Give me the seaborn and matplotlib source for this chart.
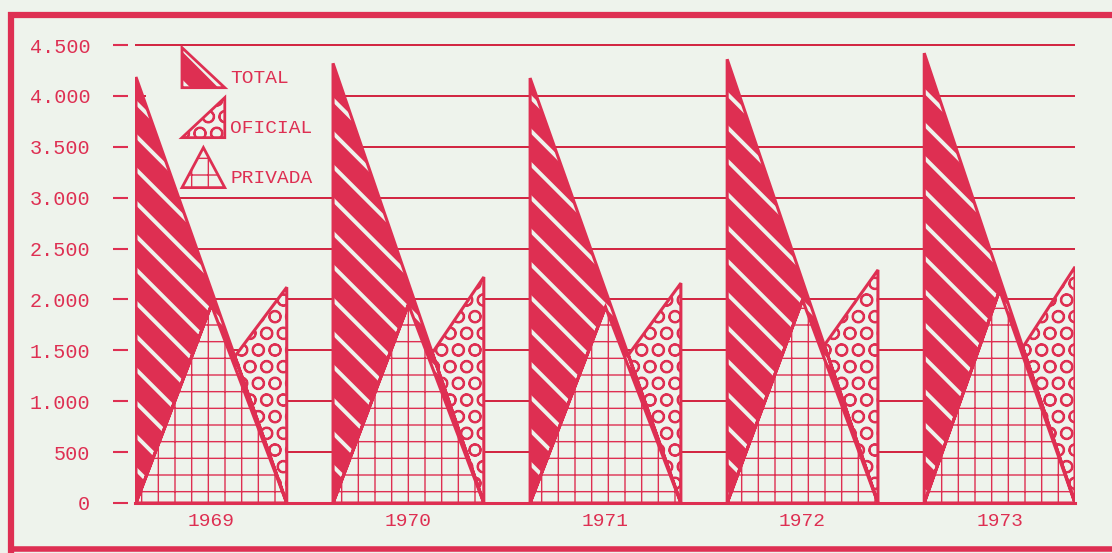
import pandas as pd
import seaborn as sns
import matplotlib.pyplot as plt
from matplotlib.patches import Polygon, Patch, Rectangle
from matplotlib.legend_handler import HandlerPatch, HandlerTuple
from matplotlib.lines import Line2D

years = ["1969", "1970", "1971", "1972", "1973"]
total = [4185, 4320, 4175, 4360, 4420]
oficial = [2120, 2220, 2160, 2290, 2320]
privada = [1945, 1950, 1925, 1995, 2090]
# height where the OFICIAL triangle touches the TOTAL slope
oficial_base = [1440, 1475, 1455, 1550, 1530]
series = ["TOTAL", "OFICIAL", "PRIVADA"]
y_ticks = [0, 500, 1000, 1500, 2000, 2500, 3000, 3500, 4000, 4500]

RED = "#de2f52"
GRID = "#d2233f"
BG = "#eef3ec"
FONT = "Liberation Mono"

STEP = 1.0
WIDTH = 0.765
Y_TOP = 4525

STYLES = {
    "TOTAL": dict(face=RED, hatch_color=BG, hatch="\\", hatch_lw=2.8, z=2),
    "PRIVADA": dict(face=BG, hatch_color=RED, hatch="+", hatch_lw=1.0, z=3),
    "OFICIAL": dict(face=BG, hatch_color=RED, hatch="O", hatch_lw=1.4, z=4),
}


def make_shapes():
    rows = []
    for i, year in enumerate(years):
        left = i * STEP
        right = left + WIDTH
        mid = (left + right) / 2
        frac = 1 - oficial_base[i] / total[i]
        xv = left + frac * WIDTH
        shapes = {
            "TOTAL": [(left, 0), (right, 0), (left, total[i])],
            "PRIVADA": [(left, 0), (mid, privada[i]), (right, 0)],
            "OFICIAL": [(right, 0), (xv, oficial_base[i]), (right, oficial[i])],
        }
        for serie, pts in shapes.items():
            # repeat two points so the outline closes with a join
            for k, (x, y) in enumerate(pts + pts[:2]):
                rows.append(dict(year=year, serie=serie, x=x, y=y, order=k))
    return pd.DataFrame(rows)


def set_hatch_lw(patch, lw):
    if hasattr(patch, "set_hatch_linewidth"):
        patch.set_hatch_linewidth(lw)


class TriangleHandler(HandlerPatch):
    # triangles taller than the handle box, sitting just under the baseline
    def create_artists(self, legend, orig_handle, xdescent, ydescent,
                       width, height, fontsize, trans):
        x0 = -xdescent
        y0 = -0.22 * fontsize
        h = 2.06 * fontsize
        kind = orig_handle.get_gid()
        if kind == "TOTAL":
            pts = [(x0, y0 + h), (x0, y0), (x0 + width, y0)]
        elif kind == "OFICIAL":
            pts = [(x0, y0), (x0 + width, y0), (x0 + width, y0 + h)]
        else:
            pts = [(x0, y0), (x0 + width / 2, y0 + h), (x0 + width, y0)]
        p = Polygon(pts, closed=True)
        self.update_prop(p, orig_handle, legend)
        if hasattr(orig_handle, "get_hatch_linewidth"):
            p.set_hatch_linewidth(orig_handle.get_hatch_linewidth())
        p.set_transform(trans)
        return [p]


if __name__ == "__main__":
    sns.set_theme(style="white")
    plt.rcParams["font.family"] = [FONT, "DejaVu Sans"]

    fig = plt.figure(figsize=(11.12, 5.53), dpi=100, facecolor=BG)
    ax_h = 458 * Y_TOP / 4500
    ax = fig.add_axes([135 / 1112, 50 / 553, 940 / 1112, ax_h / 553])
    ax.set_facecolor(BG)

    data = make_shapes()

    for serie in ["TOTAL", "PRIVADA", "OFICIAL"]:
        st = STYLES[serie]
        sub = data[data["serie"] == serie]
        for year, g in sub.groupby("year"):
            g = g.sort_values("order").iloc[:3]
            polys = ax.fill(g["x"], g["y"], facecolor=st["face"],
                            edgecolor=st["hatch_color"], hatch=st["hatch"],
                            lw=0, zorder=st["z"])
            for p in polys:
                set_hatch_lw(p, st["hatch_lw"])
        sns.lineplot(data=sub, x="x", y="y", units="year", estimator=None,
                     sort=False, color=RED, lw=2.2, zorder=st["z"] + 0.5,
                     solid_joinstyle="miter", legend=False, ax=ax)

    ax.set_xlim(-0.005, (len(years) - 1) * STEP + WIDTH)
    ax.set_ylim(0, Y_TOP)
    ax.set_xlabel("")
    ax.set_ylabel("")

    for side in ["left", "right", "top"]:
        ax.spines[side].set_visible(False)
    ax.spines["left"].set_position(("outward", 5))
    ax.spines["bottom"].set_color(RED)
    ax.spines["bottom"].set_linewidth(2.2)
    ax.spines["bottom"].set_zorder(6)

    ax.set_yticks(y_ticks)
    ax.set_yticklabels([f"{v:,}".replace(",", ".") for v in y_ticks])
    ax.set_xticks([i * STEP + WIDTH / 2 for i in range(len(years))])
    ax.set_xticklabels(years)
    ax.tick_params(axis="y", direction="out", length=10.8, width=1.5,
                   color=RED, pad=16.5, left=True, labelsize=14.5,
                   labelcolor=RED, labelfontfamily=FONT)
    ax.tick_params(axis="x", length=0, pad=7, labelsize=14,
                   labelcolor=RED, labelfontfamily=FONT)

    ax.set_axisbelow(True)
    ax.yaxis.grid(True, color=GRID, lw=1.4)
    ax.xaxis.grid(False)

    # blank patch behind the legend, gridlines do not run through it
    ax.add_patch(Rectangle((0.012, 0.68), 0.2, 0.30, transform=ax.transAxes,
                           facecolor=BG, edgecolor="none", zorder=1.2))

    handles = []
    for serie in series:
        st = STYLES[serie]
        fill = Patch(facecolor=st["face"], edgecolor=st["hatch_color"],
                     hatch=st["hatch"], lw=0, gid=serie)
        set_hatch_lw(fill, st["hatch_lw"])
        edge = Patch(facecolor="none", edgecolor=RED, lw=2.0, gid=serie)
        handles.append((fill, edge))
    leg = ax.legend(handles, series, loc="upper left",
                    bbox_to_anchor=(0.05, 1 - 18 / ax_h),
                    frameon=False, borderpad=0, borderaxespad=0,
                    handlelength=2.2, handleheight=2.3, labelspacing=0.83,
                    handletextpad=0.28, labelcolor=RED,
                    prop=dict(family=FONT, size=14),
                    handler_map={tuple: HandlerTuple(ndivide=1, pad=0),
                                 Patch: TriangleHandler()})
    leg.set_zorder(7)

    # red frame around the sheet
    frame = dict(color=RED, solid_capstyle="butt", transform=fig.transFigure)
    fig.add_artist(Line2D([11 / 1112, 11 / 1112], [0, 1 - 12 / 553],
                          lw=4.5, **frame))
    fig.add_artist(Line2D([8 / 1112, 1], [1 - 15 / 553, 1 - 15 / 553],
                          lw=4.5, **frame))
    fig.add_artist(Line2D([8 / 1112, 1], [4 / 553, 4 / 553],
                          lw=4.0, **frame))

    fig.savefig("out.png", dpi=100, facecolor=BG)
